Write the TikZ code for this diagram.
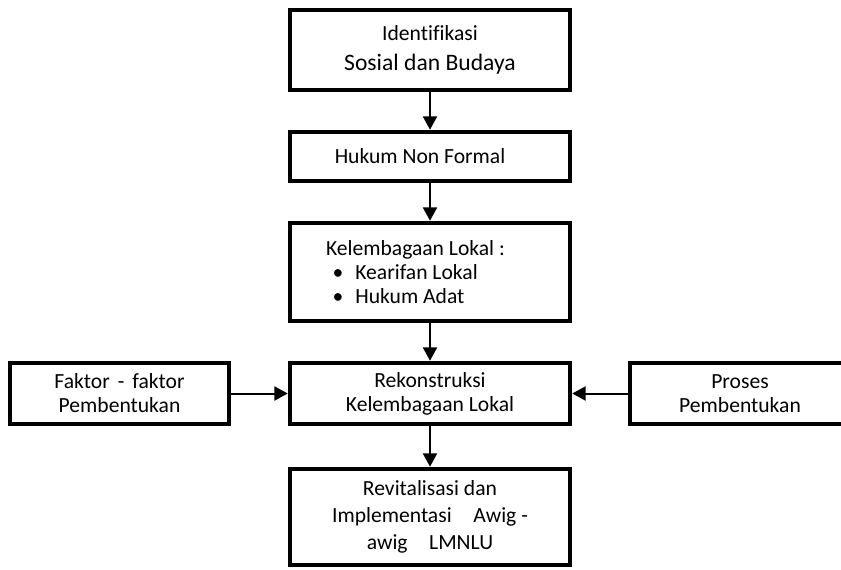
\documentclass[tikz,border=0pt]{standalone}
\usepackage{fontspec}
\setmainfont{Carlito}[Ligatures=CommonOff]
\usetikzlibrary{arrows.meta}

\begin{document}
\begin{tikzpicture}[x=0.75pt,y=-0.75pt,
  box/.style={draw, line width=3.4pt, minimum width=210pt, inner sep=0pt, align=center, font=\fontsize{16.2}{18}\selectfont},
  arr/.style={line width=1.5pt, -{Triangle[length=10pt,width=10.5pt]}}]
\useasboundingbox (0,0) rectangle (841,570);
\clip (0,0) rectangle (841,570);
\node[box, minimum height=60pt] (ident) at (430,50) {Identifikasi\\[5pt]{\fontsize{17.7}{20}\selectfont Sosial dan Budaya}};
\node[box, minimum height=36.75pt] (hukum) at (430,156.5) {\hbox{Hukum Non Formal\kern15pt}};
\node[box, minimum height=73.5pt, text width=156pt, align=flush left] (lembaga) at (430,272) {Kelembagaan Lokal :\\
  \makebox[22pt][l]{\hspace*{5pt}•}Kearifan Lokal\\
  \makebox[22pt][l]{\hspace*{5pt}•}Hukum Adat};
\node[box, minimum height=45.75pt] (rekon) at (430,393.5) {Rekonstruksi\\Kelembagaan Lokal};
\node[box, minimum height=45.75pt, minimum width=164.25pt] (faktor) at (119.5,393.5) {Faktor\hspace{0.37em}-\hspace{0.37em}faktor\\Pembentukan};
\node[box, minimum height=45.75pt, minimum width=165pt] (proses) at (740,393.5) {Proses\\Pembentukan};
\node[box, minimum height=72pt, font=\fontsize{16.2}{20.25}\selectfont] (revit) at (430,517) {Revitalisasi dan\\Implementasi\quad Awig -\\awig\quad LMNLU};
\draw[arr] (ident) -- (hukum);
\draw[arr] (hukum) -- (lembaga);
\draw[arr] (lembaga) -- (rekon);
\draw[arr] (rekon) -- (revit);
\draw[arr] (faktor.east) -- (rekon.west);
\draw[arr] (proses.west) -- (rekon.east);
\end{tikzpicture}
\end{document}
